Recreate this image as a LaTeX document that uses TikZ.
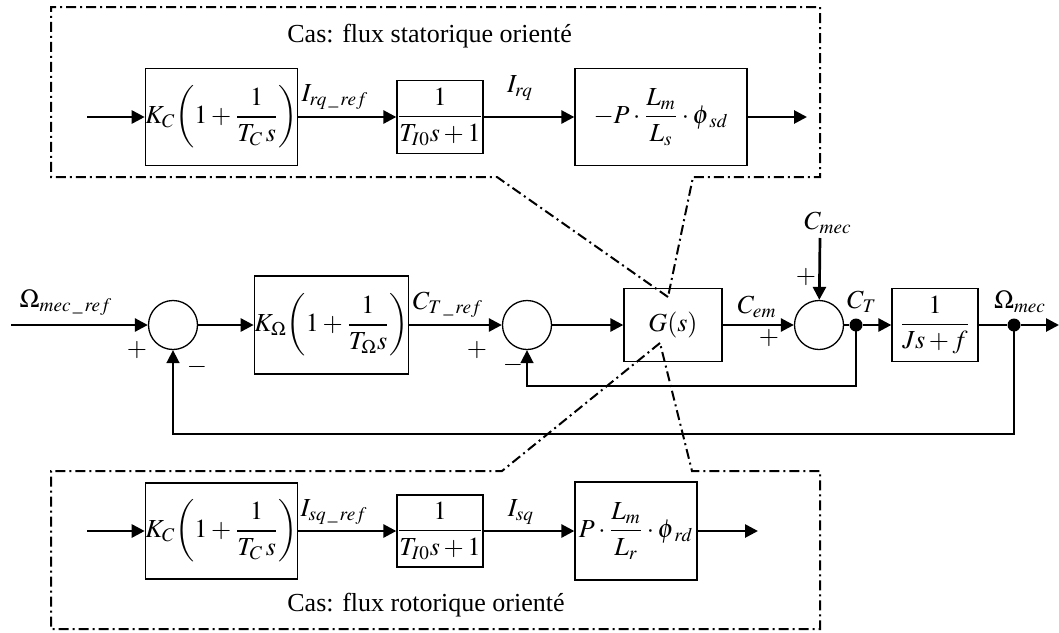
\documentclass[tikz,border=0pt]{standalone}
\usepackage{amsmath}
\usepackage{mathptmx}
\usepackage[no-math]{fontspec}
\setmainfont{Liberation Serif}
\usepackage{tikz}
\usetikzlibrary{arrows.meta}
\tikzset{
  blk/.style = {draw=black, line width=0.65pt, inner sep=0pt, align=center},
  sumnode/.style = {circle, draw=black, line width=0.65pt,
    minimum size=24.5pt, inner sep=0pt},
  pt/.style = {circle, fill=black, inner sep=0pt, minimum size=6.5pt},
  sig/.style = {line width=1.35pt},
  fb/.style = {line width=0.85pt},
  frame/.style = {line width=1pt, dash pattern=on 5pt off 2pt on 1pt off 2pt},
  lbl/.style = {inner sep=0pt}
}

\begin{document}
\begin{tikzpicture}[x=0.5pt, y=-0.5pt, >={Triangle[length=6.5pt,width=6.5pt]},
  font=\fontsize{13}{15}\selectfont]
\useasboundingbox (0,0) rectangle (1059,632);

% frames
\draw[frame] (668,297) -- (497,177) -- (51,177) -- (51,7) -- (820,7)
  -- (820,177) -- (693,177) -- cycle;
\draw[frame] (660,343) -- (502,471) -- (51,471) -- (51,629) -- (820,629)
  -- (820,471) -- (692,471) -- cycle;
\node[lbl, anchor=west] (tstat) at (287,36) {Cas: flux statorique orienté};
\node[lbl, anchor=west] (trot) at (287,605) {Cas: flux rotorique orienté};

% statorique
\coordinate (in1) at (87,117);
\coordinate (out1) at (807,117);
\node[blk, minimum width=73.5pt, minimum height=48.5pt] (kc1) at (221.5,117)
  {$K_C\biggl(1+\dfrac{1}{T_C\,s}\biggr)$};
\node[blk, minimum width=43pt, minimum height=36.5pt] (t1) at (440,117)
  {$\dfrac{1}{T_{I0}s+1}$};
\node[blk, minimum width=86pt, minimum height=48.5pt] (pl1) at (661,117)
  {$-P\cdot\dfrac{L_m}{L_s}\cdot\phi_{\mkern3mu sd}$};
\draw[sig,->] (in1) -- (kc1);
\draw[sig,->] (kc1) -- (t1);
\draw[sig,->] (t1) -- (pl1);
\draw[sig,->] (pl1) -- (out1);
\node[lbl] (lirqref) at (335,97) {$I_{rq\,\_\,ref}$};
\node[lbl] (lirq) at (520,88) {$I_{rq}$};

% rotorique
\coordinate (in2) at (87,531);
\coordinate (out2) at (758,531);
\node[blk, minimum width=73.5pt, minimum height=48pt] (kc2) at (221.5,531)
  {$K_C\biggl(1+\dfrac{1}{T_C\,s}\biggr)$};
\node[blk, minimum width=43pt, minimum height=36pt] (t2) at (440,531)
  {$\dfrac{1}{T_{I0}s+1}$};
\node[blk, minimum width=61pt, minimum height=49pt] (pl2) at (636,531)
  {$P\cdot\dfrac{L_m}{L_r}\cdot\phi_{\mkern3mu rd}$};
\draw[sig,->] (in2) -- (kc2);
\draw[sig,->] (kc2) -- (t2);
\draw[sig,->] (t2) -- (pl2);
\draw[sig,->] (pl2) -- (out2);
\node[lbl] (lisqref) at (334,512) {$I_{sq\,\_\,ref}$};
\node[lbl] (lisq) at (521,512) {$I_{sq}$};

% boucle principale
\coordinate (in0) at (11,325);
\coordinate (out0) at (1059,325);
\coordinate (cm) at (820,238);
\coordinate (lo1) at (527,386);
\coordinate (lo2) at (173,434);
\node[sumnode] (s1) at (173,325) {};
\node[blk, minimum width=73.5pt, minimum height=49pt] (kw) at (331.5,325)
  {$K_\Omega\biggl(1+\dfrac{1}{T_\Omega s}\biggr)$};
\node[sumnode] (s2) at (527,325) {};
\node[blk, minimum width=49pt, minimum height=36.5pt] (g) at (673,325) {$G(s)$};
\node[sumnode] (s3) at (819,325) {};
\node[pt] (ct) at (856,325) {};
\node[blk, minimum width=43pt, minimum height=36.5pt] (js) at (935,325)
  {$\dfrac{1}{Js+f}$};
\node[pt] (om) at (1014,325) {};
\draw[sig,->] (in0) -- (s1);
\draw[sig,->] (s1) -- (kw);
\draw[sig,->] (kw) -- (s2);
\draw[sig,->] (s2) -- (g);
\draw[sig,->] (g) -- (s3);
\draw[sig] (s3) -- (ct);
\draw[sig,->] (ct) -- (js);
\draw[sig] (js) -- (om);
\draw[sig,->] (om) -- (out0);
\draw[sig,->] (cm) -- (s3);
\draw[fb,->] (ct.center) |- (lo1) -- (s2.south);
\draw[fb,->] (om.center) |- (lo2) -- (s1.south);

\node[lbl] (lwref) at (66,303) {$\Omega_{mec\,\_\,ref}$};
\node[lbl] (lctref) at (448,305) {$C_{T\,\_\,ref}$};
\node[lbl] (lcem) at (757,307) {$C_{em}$};
\node[lbl] (lct) at (862,302) {$C_T$};
\node[lbl] (lwm) at (1020,302) {$\Omega_{mec}$};
\node[lbl] (lcmec) at (828,223) {$C_{mec}$};
\node[lbl] (p1) at (137,350) {$+$};
\node[lbl] (m1) at (197,367) {$-$};
\node[lbl] (p2) at (477,350) {$+$};
\node[lbl] (m2) at (513,365) {$-$};
\node[lbl] (p3) at (769,338) {$+$};
\node[lbl] (p4) at (806,277) {$+$};
\end{tikzpicture}
\end{document}
